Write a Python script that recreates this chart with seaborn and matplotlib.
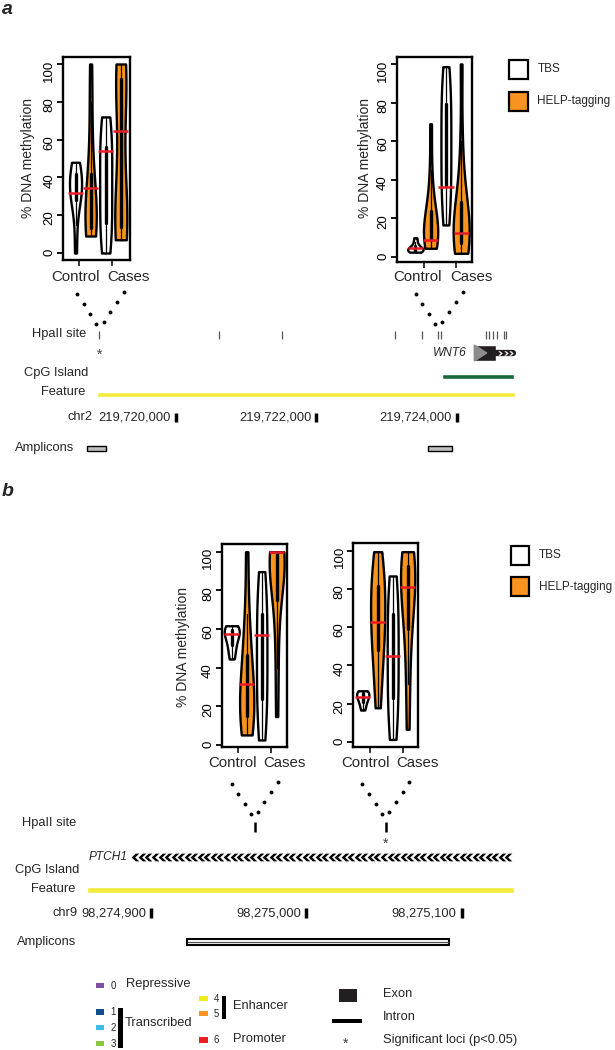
import numpy as np
import pandas as pd
import matplotlib
matplotlib.use("Agg")
import matplotlib.pyplot as plt
import seaborn as sns
from matplotlib import font_manager as fm
from matplotlib.patches import Rectangle, Polygon
from matplotlib.path import Path

# ---------------------------------------------------------------- data
violin_groups = ["Control", "Control", "Cases", "Cases"]
violin_methods = ["TBS", "HELP-tagging", "TBS", "HELP-tagging"]
group_labels = ["Control", "Cases"]
method_colors = {"TBS": "white", "HELP-tagging": "#F7931E"}
y_ticks = [0, 20, 40, 60, 80, 100]

# panel a, left locus
a1_values = [
    [0, 15, 26, 29, 31, 33, 35, 38, 41, 44, 46, 48],
    [9, 10, 11, 13, 16, 20, 24, 28, 34, 42, 58, 80, 100],
    [0, 5, 12, 20, 28, 36, 44, 52, 60, 66, 72],
    [7, 8, 10, 14, 20, 28, 40, 65, 85, 92, 96, 99, 100],
]
a1_medians = [31.5, 34.6, 54.0, 64.7]
# panel a, right locus
a2_values = [
    [2.5, 3, 3, 3.5, 4, 4, 4.5, 5, 6, 8, 10],
    [4.5, 5, 7, 9, 11, 13, 15, 17, 20, 24, 30, 45, 69],
    [16.6, 22, 28, 34, 40, 46, 52, 58, 64, 70, 76, 82, 88, 94, 98.6],
    [1.9, 3, 5, 7, 9, 12, 14, 17, 20, 24, 30, 38, 60, 100],
]
a2_medians = [4.5, 8.8, 36.4, 12.6]
# panel b, left locus
b1_values = [
    [44.5, 48, 51, 54, 56, 57.5, 59, 60, 61, 61.7],
    [5.2, 8, 12, 16, 20, 25, 30, 36, 44, 55, 68, 100],
    [2.6, 10, 18, 26, 34, 42, 50, 58, 66, 74, 82, 89.7],
    [14.7, 40, 60, 75, 84, 90, 94, 96, 98, 99, 100, 100, 100],
]
b1_medians = [57.3, 31.6, 56.9, 100.0]
# panel b, right locus
b2_values = [
    [16.6, 19, 21, 22.5, 23.5, 24.5, 25.5, 26, 26.7],
    [17.8, 30, 42, 50, 56, 62, 68, 74, 80, 86, 92, 99.5],
    [1.2, 9, 17, 25, 33, 41, 49, 57, 65, 73, 81, 86.8],
    [6.5, 30, 50, 62, 72, 78, 83, 87, 91, 95, 98, 99.5],
]
b2_medians = [23.2, 62.5, 44.9, 81.2]

# genome tracks, panel a
a_chrom = "chr2"
a_coord_ticks = [219720000, 219722000, 219724000]
a_hpaii_sites = [219718912, 219720621, 219721509, 219723122, 219723510, 219723730,
                 219723777, 219724417, 219724464, 219724521, 219724578, 219724673, 219724702]
a_significant = [0]
a_feature = (219718875, 219724830)
a_cpg_island = (219723786, 219724820)
a_gene = "WNT6"
a_exon = (219724250, 219724559)
a_gene_end = 219724806
a_amplicons = [(219718742, 219719008), (219723587, 219723929)]

# genome tracks, panel b
b_chrom = "chr9"
b_coord_ticks = [98274900, 98275000, 98275100]
b_hpaii_sites = [98274967, 98275051]
b_significant = [1]
b_feature = (98274859, 98275134)
b_gene = "PTCH1"
b_gene_span = (98274888, 98275132)
b_amplicons = [(98274923, 98275092)]

# chromatin state legend
state_ids = [0, 1, 2, 3, 4, 5, 6]
state_colors = ["#7F50A0", "#0E4F8B", "#3DBBEB", "#8DC63F", "#F2E81C", "#F7931E", "#EC1C24"]

# ---------------------------------------------------------------- setup
sns.set_style("white")
plt.rcParams['font.family'] = ['Liberation Sans', 'DejaVu Sans']
try:
    fm.findfont(fm.FontProperties(family='Liberation Sans Narrow'), fallback_to_default=False)
    NARROW, NS = 'Liberation Sans Narrow', 10.5
except Exception:
    NARROW, NS = 'Liberation Sans', 9.3

W, H = 615, 1050
fig = plt.figure(figsize=(W / 100, H / 100), dpi=100)


def px_axes(x0, y0, x1, y1):
    return fig.add_axes([x0 / W, 1 - y1 / H, (x1 - x0) / W, (y1 - y0) / H])


def violin_panel(rect, values, medians, widths, xlim, ylim, ticks):
    ax = px_axes(*rect)
    for i, (vals, med, m, w) in enumerate(zip(values, medians, violin_methods, widths)):
        df = pd.DataFrame({"pos": [i] * len(vals), "value": vals})
        sns.violinplot(data=df, x="pos", y="value", native_scale=True, cut=0, width=w,
                       color=method_colors[m], saturation=1, linecolor="black",
                       linewidth=1.7, inner="box",
                       inner_kws=dict(box_width=2.4, whis_width=0.9, marker=""),
                       density_norm="width", ax=ax)
        ax.hlines(med, i - 0.5, i + 0.5, color="#ED1C24", lw=1.8, zorder=6)
    ax.set_xlim(*xlim)
    ax.set_ylim(*ylim)
    ax.set_xlabel("")
    ax.set_ylabel("")
    ax.set_yticks(y_ticks)
    ax.set_yticklabels([str(t) for t in y_ticks])
    ax.set_xticks(ticks)
    ax.set_xticklabels(["", ""])
    ax.tick_params(axis="y", left=True, length=4, width=1.3, pad=1.5, labelsize=9.5,
                   labelrotation=90, direction="out", colors="black")
    ax.tick_params(axis="x", bottom=True, length=4, width=1.3, direction="out")
    for s in ax.spines.values():
        s.set_visible(True)
        s.set_linewidth(1.7)
        s.set_color("black")
    ax.patch.set_alpha(0)
    return ax


violin_panel((63, 57, 130, 260), a1_values, a1_medians, [0.8, 0.75, 0.8, 0.8],
             (-0.83, 3.61), (-3.7, 103.7), [0.23, 2.42])
violin_panel((396.7, 57, 471.7, 262), a2_values, a2_medians, [1.0, 0.93, 0.65, 1.05],
             (-1.22, 3.69), (-2.6, 103.6), [0.57, 2.66])
violin_panel((221.7, 544, 286.7, 746.7), b1_values, b1_medians, [1.0, 0.95, 0.7, 1.0],
             (-0.67, 3.67), (-0.9, 104), [0.4, 2.62])
violin_panel((353.3, 543.3, 418.3, 747.3), b2_values, b2_medians, [0.82, 0.95, 0.73, 0.95],
             (-0.63, 3.71), (-2.9, 103.9), [0.49, 2.71])

# ---------------------------------------------------------------- tracks
a_xlim = (219717499, 219726253)
b_xlim = (98274802.8, 98275198.7)


def track_axes(y0, y1, xlim):
    ax = fig.add_axes([0, 1 - y1 / H, 1, (y1 - y0) / H])
    ax.set_xlim(*xlim)
    ax.set_ylim(y1, y0)
    ax.axis("off")
    ax.patch.set_alpha(0)
    return ax


chev = Path([(-1, 0), (0.1, 1), (1, 1), (-0.1, 0), (1, -1), (0.1, -1), (-1, 0)],
            [Path.MOVETO] + [Path.LINETO] * 5 + [Path.CLOSEPOLY])
chev_r = Path([(1, 0), (-0.15, 1), (-1, 1), (0.15, 0), (-1, -1), (-0.15, -1), (1, 0)],
              [Path.MOVETO] + [Path.LINETO] * 5 + [Path.CLOSEPOLY])

# panel a
ta = track_axes(285, 460, a_xlim)
bpp_a = (a_xlim[1] - a_xlim[0]) / W
ta.vlines(a_hpaii_sites, 331, 339, color="#555555", lw=0.9)
for k in a_significant:
    ta.text(a_hpaii_sites[k], 355, "*", ha="center", va="center", fontsize=10, color="#444444")
ta.barh(376.7, a_cpg_island[1] - a_cpg_island[0], left=a_cpg_island[0], height=5.3, color="#17693A")
ta.barh(394.2, a_feature[1] - a_feature[0], left=a_feature[0], height=5.0, color="#F3EA3B")
ta.barh(353, a_exon[1] - a_exon[0], left=a_exon[0], height=16, color="#231F20")
ta.add_patch(Polygon([(a_exon[0], 345), (a_exon[0], 361), (a_exon[0] + 12.5 * bpp_a, 353)],
                     closed=True, color="#8C8C8C"))
ta.hlines(353, a_exon[1], a_gene_end, color="#231F20", lw=4.5, capstyle="round")
ta.plot(np.linspace(a_exon[1] + 4 * bpp_a, a_gene_end - 2 * bpp_a, 3), [353] * 3, ls="",
        marker=chev_r, ms=3.2, color="white", mew=0)
for s, e in a_amplicons:
    ta.barh(448.3, e - s, left=s, height=5, color="#BDBDBD", edgecolor="black", lw=1)
ta.vlines(a_coord_ticks, 413, 422, color="black", lw=2.5, capstyle="butt")
for c in a_coord_ticks:
    ta.annotate(f"{c:,}", xy=(c, 417.3), xytext=(-5, 0), textcoords="offset pixels",
                ha="right", va="center", fontfamily=NARROW, fontsize=NS)

# panel b
tb = track_axes(775, 955, b_xlim)
bpp_b = (b_xlim[1] - b_xlim[0]) / W
tb.vlines(b_hpaii_sites, 821.7, 831.7, color="black", lw=1.8)
for k in b_significant:
    tb.text(b_hpaii_sites[k], 844, "*", ha="center", va="center", fontsize=10, color="#444444")
n_chev = int(round((b_gene_span[1] - b_gene_span[0]) / (6.6 * bpp_b))) + 1
tb.plot(np.linspace(b_gene_span[0] + 3 * bpp_b, b_gene_span[1] - 3 * bpp_b, n_chev), [856.7] * n_chev,
        ls="", marker=chev, ms=5.6, color="black", mew=0)
tb.barh(890, b_feature[1] - b_feature[0], left=b_feature[0], height=5.3, color="#F3EA3B")
for s, e in b_amplicons:
    tb.barh(942.2, e - s, left=s, height=5.7, color="white", edgecolor="black", lw=1.5)
    tb.hlines(942.2, s, e, color="#555555", lw=0.9)
tb.vlines(b_coord_ticks, 908.3, 917.7, color="black", lw=2.5, capstyle="butt")
for c in b_coord_ticks:
    tb.annotate(f"{c:,}", xy=(c, 913.3), xytext=(-5, 0), textcoords="offset pixels",
                ha="right", va="center", fontfamily=NARROW, fontsize=NS)

# ---------------------------------------------------------------- overlay (pixel coords)
ov = fig.add_axes([0, 0, 1, 1])
ov.set_xlim(0, W)
ov.set_ylim(H, 0)
ov.axis("off")
ov.patch.set_alpha(0)


def t(x, y, s, ha="left", va="center", **kw):
    kw.setdefault("fontfamily", NARROW)
    kw.setdefault("fontsize", NS)
    ov.text(x, y, s, ha=ha, va=va, **kw)


t(2, 9, "a", fontfamily="Liberation Sans", fontsize=14, fontweight="bold", style="italic")
t(2, 491, "b", fontfamily="Liberation Sans", fontsize=14, fontweight="bold", style="italic")

# x category labels and y labels
for (xc, xs), y in [((75.5, 128.7), 277), ((418, 471.3), 277), ((232.7, 284.7), 763.3), ((365.7, 417.7), 763.3)]:
    t(xc, y, group_labels[0], ha="center", fontfamily="Liberation Sans", fontsize=10.8)
    t(xs, y, group_labels[1], ha="center", fontfamily="Liberation Sans", fontsize=10.8)
for x, y in [(28, 158), (365, 158), (183.3, 646.7)]:
    t(x, y, "% DNA methylation", ha="center", rotation=90, fontfamily="Liberation Sans", fontsize=10)

# method legends
LS = NS if NARROW != 'Liberation Sans' else 8.5
for x0, ys in [(509.3, (60, 92)), (511, (546, 577.3))]:
    for y0, m in zip(ys, ["TBS", "HELP-tagging"]):
        ov.add_patch(Rectangle((x0, y0), 18.4, 18.5, fc=method_colors[m], ec="black", lw=1.6))
        t(x0 + 28, y0 + 9.3, m, fontsize=LS)

# connector dots
for (p0, p1), (q0, q1) in [
    (((77.3, 294), (96.3, 324.3)), ((124, 292), (103.7, 322.3))),
    (((415.7, 294), (435, 324.3)), ((462.7, 292), (441.7, 322.3))),
    (((231.7, 784), (251, 814.3)), ((278, 782), (257.7, 812.3))),
    (((362.3, 784), (382.3, 814.3)), ((409.3, 782), (389.3, 812.3))),
]:
    for a0, a1 in [(p0, p1), (q0, q1)]:
        ov.plot(np.linspace(a0[0], a1[0], 4), np.linspace(a0[1], a1[1], 4), ls="",
                marker="o", ms=2.8, color="black", mew=0)

# track labels
GS = NS if NARROW != 'Liberation Sans' else 8.6
t(86.7, 334.3, "HpaII site", ha="right")
t(88.3, 372.7, "CpG Island", ha="right")
t(85, 391.7, "Feature", ha="right")
t(92.7, 417.3, a_chrom, ha="right")
t(15, 447.7, "Amplicons")
t(449.7, 353.3, a_gene, ha="center", style="italic", fontsize=GS)

t(76.7, 823.3, "HpaII site", ha="right")
t(89, 856.7, b_gene, style="italic", fontsize=GS)
t(79, 870, "CpG Island", ha="right")
t(75.7, 889, "Feature", ha="right")
t(77.7, 913.3, b_chrom, ha="right")
t(17.3, 941.7, "Amplicons")

# chromatin state legend
sq_pos = [(96, 982.7), (96, 1009.3), (96, 1025), (96, 1040.7), (199.3, 996), (199.3, 1011), (199.3, 1037.3)]
for (x, y), sid, col in zip(sq_pos, state_ids, state_colors):
    ov.add_patch(Rectangle((x, y), 8.3, 5.2, fc=col, ec="none"))
    t(x + 14.5, y + 3, str(sid), ha="left", fontsize=NS * 0.75)
ov.add_patch(Rectangle((118, 1008), 4.5, 40, fc="black", ec="none"))
ov.add_patch(Rectangle((221.5, 996), 4.5, 23.3, fc="black", ec="none"))
t(125.7, 984.3, "Repressive")
t(124.5, 1023.3, "Transcribed")
t(233.3, 1005.7, "Enhancer")
t(233.3, 1039, "Promoter")

ov.add_patch(Rectangle((339, 989.3), 18.3, 13, fc="#231F20", ec="none"))
ov.add_patch(Rectangle((331.7, 1018.7), 30, 4, fc="black", ec="none"))
t(346, 1044, "*", ha="center", fontfamily="Liberation Sans", fontsize=10, color="#444444")
t(382.7, 994.3, "Exon")
t(382.7, 1017.3, "Intron")
t(382.7, 1040, "Significant loci (p<0.05)")

fig.savefig("out.png", dpi=100)
